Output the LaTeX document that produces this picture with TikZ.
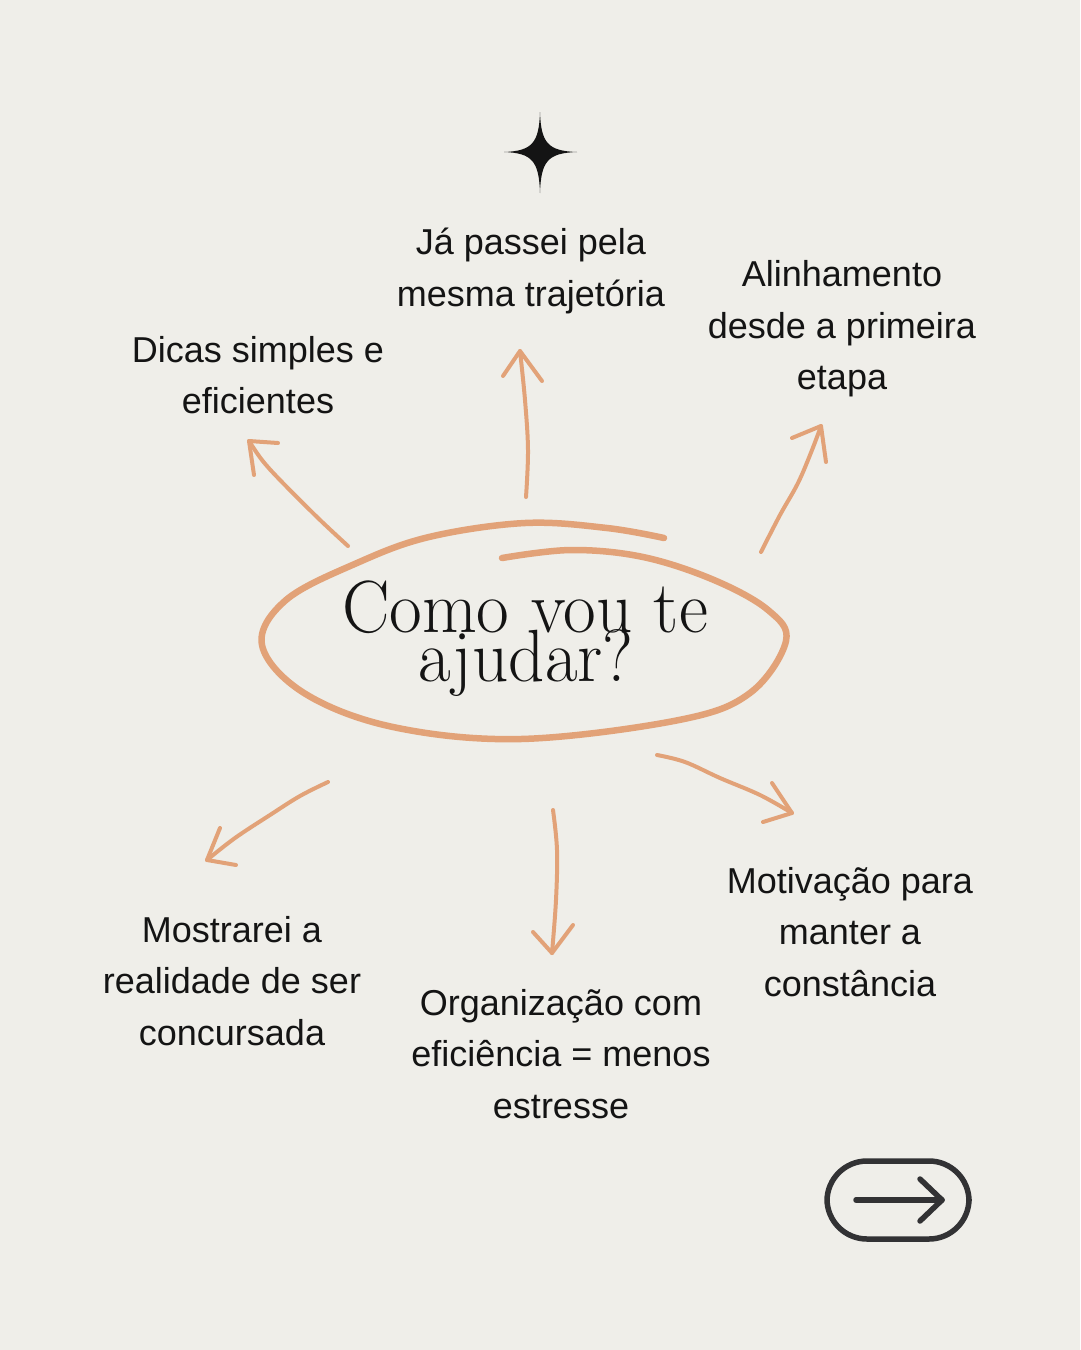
\documentclass[tikz,border=0pt]{standalone}
\usepackage{fontspec}
\usepackage{graphicx}
\newfontfamily\sansf{Liberation Sans}
\newfontfamily\headf{Latin Modern Roman}
\definecolor{bgc}{RGB}{239,238,233}
\definecolor{orng}{RGB}{226,162,120}
\definecolor{ink}{RGB}{20,20,20}
\definecolor{btn}{RGB}{50,50,52}
\tikzset{
  lbl/.style={font=\sansf\fontsize{36}{51.5}\selectfont, text=ink, align=center, inner sep=0pt},
  head/.style={font=\headf\fontsize{74}{74}\selectfont, text=ink, inner sep=0pt, anchor=base},
  hand/.style={draw=orng, line width=4pt, line cap=round, line join=round},
  loop/.style={draw=orng, line width=6.5pt, line cap=round, line join=round},
}
\begin{document}
\begin{tikzpicture}[x=1pt,y=-1pt]
\useasboundingbox (0,0) rectangle (1080,1350);
\fill[bgc] (0,0) rectangle (1080,1350);

% star
\fill[ink] (540,112) .. controls (541,143) and (548,151) .. (577,152)
  .. controls (548,153) and (541,161) .. (540,193)
  .. controls (539,161) and (532,153) .. (504,152)
  .. controls (532,151) and (539,143) .. (540,112) -- cycle;

% central loop
\draw[loop] plot[smooth, tension=0.6] coordinates {(502,558) (571,550) (643,557) (714,580) (768,610) (786,641) (750,693) (679,720) (521,739) (393,727) (304,693) (262,645) (286,600) (357,563) (429,537) (525,523) (607,528) (664,538)};

% title
\node[head] (t1) at (525,632) {\scalebox{0.96}[1]{Como vou te}};
\node[head] (t2) at (526,681) {\scalebox{0.96}[1]{ajudar?}};

% labels
\node[lbl] (l1) at (531,271) {Já passei pela\\mesma trajetória};
\node[lbl] (l2) at (258,375) {Dicas simples e\\eficientes};
\node[lbl] (l3) at (842,329) {Alinhamento\\desde a primeira\\etapa};
\node[lbl] (l4) at (232,981) {Mostrarei a\\realidade de ser\\concursada};
\node[lbl] (l5) at (561,1054) {Organização com\\eficiência = menos\\estresse};
\node[lbl] (l6) at (850,932) {Motivação para\\manter a\\constância};

% arrows
\coordinate (a1s) at (348,546); \coordinate (a1t) at (249,441);
\draw[hand] plot[smooth, tension=0.6] coordinates {(a1s) (318,518) (280,480) (262,460) (a1t)};
\draw[hand] (278,443) -- (a1t) -- (254,475);

\coordinate (a2s) at (526,497); \coordinate (a2t) at (520,351);
\draw[hand] plot[smooth, tension=0.6] coordinates {(a2s) (528,450) (525,400) (a2t)};
\draw[hand] (503,376) -- (a2t) -- (542,381);

\coordinate (a3s) at (761,552); \coordinate (a3t) at (821,426);
\draw[hand] plot[smooth, tension=0.6] coordinates {(a3s) (780,515) (798,483) (812,450) (a3t)};
\draw[hand] (792,438) -- (a3t) -- (826,462);

\coordinate (a4s) at (328,782); \coordinate (a4t) at (207,860);
\draw[hand] plot[smooth, tension=0.6] coordinates {(a4s) (300,796) (270,815) (235,838) (a4t)};
\draw[hand] (220,828) -- (a4t) -- (236,865);

\coordinate (a5s) at (553,810); \coordinate (a5t) at (552,953);
\draw[hand] plot[smooth, tension=0.6] coordinates {(a5s) (557,850) (556,900) (a5t)};
\draw[hand] (533,932) -- (a5t) -- (573,925);

\coordinate (a6s) at (657,755); \coordinate (a6t) at (792,813);
\draw[hand] plot[smooth, tension=0.6] coordinates {(a6s) (685,762) (720,778) (760,795) (a6t)};
\draw[hand] (772,783) -- (a6t) -- (763,822);

% button
\node[draw=btn, line width=5.5pt, rounded corners=40pt, minimum width=142pt, minimum height=78pt, inner sep=0pt] (btnp) at (898,1200) {};
\coordinate (ba) at (856,1200); \coordinate (bb) at (942,1200);
\draw[btn, line width=5.5pt, line cap=round, line join=round] (ba) -- (bb);
\draw[btn, line width=5.5pt, line cap=round, line join=round] (920,1179) -- (bb) -- (920,1221);
\end{tikzpicture}
\end{document}
